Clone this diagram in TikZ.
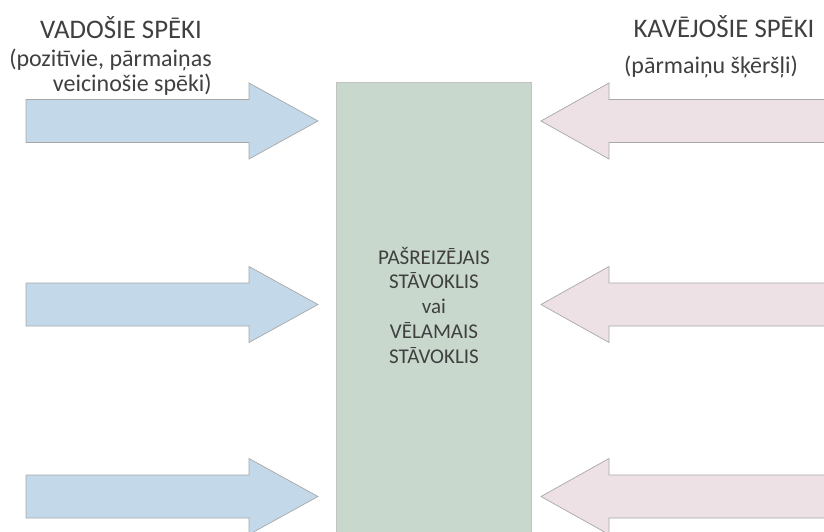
\documentclass[tikz,border=0pt]{standalone}
\usepackage{fontspec}
\setmainfont{Carlito}
\definecolor{drivefill}{HTML}{C3D8E8}
\definecolor{restrainfill}{HTML}{EDE1E5}
\definecolor{statefill}{HTML}{C8D8CC}
\definecolor{edgegray}{HTML}{A8A8A8}
\definecolor{inkgray}{HTML}{404040}
\tikzset{
  forcearrow/.style={draw=edgegray, line width=0.7pt, line join=miter},
  drive/.style={forcearrow, fill=drivefill},
  restrain/.style={forcearrow, fill=restrainfill},
  statebox/.style={draw=edgegray!70, line width=0.6pt, fill=statefill},
  heading/.style={text=inkgray, font=\fontsize{26.8}{32}\selectfont, inner sep=0pt, anchor=base},
  subheading/.style={text=inkgray, font=\fontsize{24}{28}\selectfont, inner sep=0pt, anchor=base},
  statetext/.style={text=inkgray, font=\fontsize{21}{24.75}\selectfont, align=center, inner sep=0pt, anchor=base}
}
% right-pointing block arrow: tail x, tip x, centre y
\newcommand{\rightforce}[4]{%
  \draw[drive] (#1,#3-21.5) -- (249,#3-21.5) -- (249,#3-38) -- (#2,#3)
    -- (249,#3+38) -- (249,#3+21.5) -- (#1,#3+21.5) -- cycle;
  \coordinate (#4) at (#2,#3);}
% left-pointing block arrow: tip x, tail x, centre y
\newcommand{\leftforce}[4]{%
  \draw[restrain] (#2,#3-21.5) -- (609,#3-21.5) -- (609,#3-38) -- (#1,#3)
    -- (609,#3+38) -- (609,#3+21.5) -- (#2,#3+21.5) -- cycle;
  \coordinate (#4) at (#1,#3);}
\begin{document}
\begin{tikzpicture}[x=1pt,y=-1pt]
\useasboundingbox (0,0) rectangle (824,531);
\fill[white] (0,0) rectangle (824,531);
\begin{scope}
\clip (0,0) rectangle (824,531);
% central state column
\draw[statebox] (336,82) rectangle (531,545);
% multi-line node: base anchor sits on the last line
\node[statetext] (state) at (434,363)
  {PAŠREIZĒJAIS\\STĀVOKLIS\\vai\\VĒLAMAIS\\STĀVOKLIS};
% driving forces
\rightforce{26}{318}{121}{dtip1}
\rightforce{26}{318}{304.5}{dtip2}
\rightforce{26}{318}{496.5}{dtip3}
% restraining forces
\leftforce{541}{840}{121}{rtip1}
\leftforce{541}{840}{304.5}{rtip2}
\leftforce{541}{840}{496.5}{rtip3}
\end{scope}
% headings
\node[heading] (lefthead) at (121,38) {VADOŠIE SPĒKI};
\node[subheading] (leftsub1) at (110.5,66) {(pozitīvie, pārmaiņas};
\node[subheading, anchor=base east] (leftsub2) at (212,91) {veicinošie spēki)};
\node[heading] (righthead) at (724,37) {KAVĒJOŠIE SPĒKI};
\node[subheading] (rightsub) at (711,73) {(pārmaiņu šķēršļi)};
\end{tikzpicture}
\end{document}
